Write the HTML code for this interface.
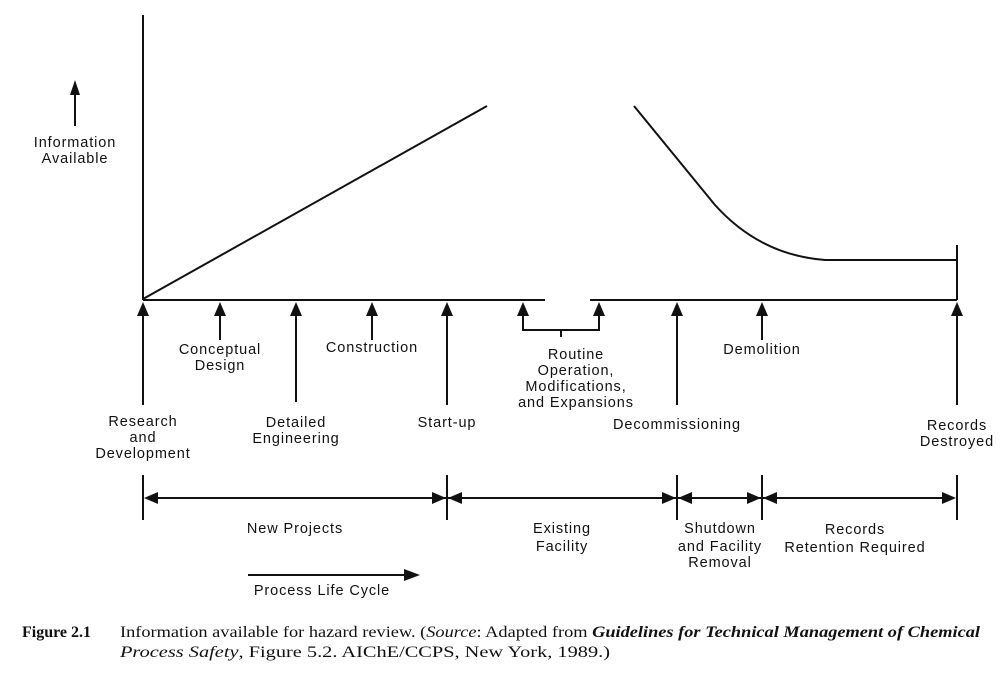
<!DOCTYPE html>
<html><head><meta charset="utf-8"><style>
body{margin:0;background:#fff}
svg text{font-family:"Liberation Sans","DejaVu Sans",sans-serif;font-size:14.5px;letter-spacing:0.9px;fill:#111}
svg text.c{font-family:"Liberation Serif",serif;font-size:16px;letter-spacing:0}
</style></head><body>
<svg width="1003" height="676" viewBox="0 0 1003 676" xmlns="http://www.w3.org/2000/svg">
<g stroke="#111" stroke-width="2" fill="none">
<line x1="143" y1="15" x2="143" y2="300"/>
<line x1="143" y1="300" x2="545" y2="300"/>
<line x1="590" y1="300" x2="957" y2="300"/>
<line x1="143" y1="299" x2="487" y2="106"/>
<path d="M634 106 L715 205 Q760 255 825 260 L957 260"/>
<line x1="957" y1="245" x2="957" y2="300"/>
<line x1="75" y1="92" x2="75" y2="126"/>
<line x1="143" y1="310" x2="143" y2="405"/>
<line x1="220" y1="310" x2="220" y2="340"/>
<line x1="296" y1="310" x2="296" y2="402"/>
<line x1="372" y1="310" x2="372" y2="340"/>
<line x1="447" y1="310" x2="447" y2="405"/>
<path d="M523 310 V330 H599 V310 M561 330 V337"/>
<line x1="677" y1="310" x2="677" y2="405"/>
<line x1="762" y1="310" x2="762" y2="340"/>
<line x1="957" y1="310" x2="957" y2="405"/>
<line x1="143" y1="475" x2="143" y2="520"/>
<line x1="447" y1="475" x2="447" y2="520"/>
<line x1="677" y1="475" x2="677" y2="520"/>
<line x1="762" y1="475" x2="762" y2="520"/>
<line x1="957" y1="475" x2="957" y2="520"/>
<line x1="150" y1="498" x2="950" y2="498"/>
<line x1="248" y1="575" x2="408" y2="575"/>
</g>
<g fill="#111">
<polygon points="75,80 70,95 80,95"/>
<polygon points="143,302 137,316 149,316"/>
<polygon points="220,302 214,316 226,316"/>
<polygon points="296,302 290,316 302,316"/>
<polygon points="372,302 366,316 378,316"/>
<polygon points="447,302 441,316 453,316"/>
<polygon points="523,302 517,316 529,316"/>
<polygon points="599,302 593,316 605,316"/>
<polygon points="677,302 671,316 683,316"/>
<polygon points="762,302 756,316 768,316"/>
<polygon points="957,302 951,316 963,316"/>
<polygon points="144,498 158,492 158,504"/>
<polygon points="446,498 432,492 432,504"/>
<polygon points="448,498 462,492 462,504"/>
<polygon points="676,498 662,492 662,504"/>
<polygon points="678,498 692,492 692,504"/>
<polygon points="761,498 747,492 747,504"/>
<polygon points="763,498 777,492 777,504"/>
<polygon points="956,498 942,492 942,504"/>
<polygon points="420,575 404,569 404,581"/>
</g>
<g text-anchor="middle">
<text x="75" y="147">Information</text><text x="75" y="163">Available</text>
<text x="143" y="426">Research</text><text x="143" y="442">and</text><text x="143" y="458">Development</text>
<text x="220" y="354">Conceptual</text><text x="220" y="370">Design</text>
<text x="296" y="427">Detailed</text><text x="296" y="443">Engineering</text>
<text x="372" y="352">Construction</text>
<text x="447" y="427">Start-up</text>
<text x="576" y="359">Routine</text><text x="576" y="375">Operation,</text><text x="576" y="391">Modifications,</text><text x="576" y="407">and Expansions</text>
<text x="677" y="429">Decommissioning</text>
<text x="762" y="354">Demolition</text>
<text x="957" y="430">Records</text><text x="957" y="446">Destroyed</text>
<text x="295" y="533">New Projects</text>
<text x="562" y="533">Existing</text><text x="562" y="551">Facility</text>
<text x="720" y="533">Shutdown</text><text x="720" y="551">and Facility</text><text x="720" y="567">Removal</text>
<text x="855" y="534">Records</text><text x="855" y="552">Retention Required</text>
<text x="322" y="595">Process Life Cycle</text>
</g>
<text class="c" x="22" y="637" font-weight="bold">Figure 2.1</text>
<text class="c" x="120" y="637" textLength="860" lengthAdjust="spacingAndGlyphs">Information available for hazard review. (<tspan font-style="italic">Source</tspan>: Adapted from <tspan font-style="italic" font-weight="bold">Guidelines for Technical Management of Chemical</tspan></text>
<text class="c" x="120" y="657" textLength="490" lengthAdjust="spacingAndGlyphs"><tspan font-style="italic">Process Safety</tspan>, Figure 5.2. AIChE/CCPS, New York, 1989.)</text>
</svg>
</body></html>
